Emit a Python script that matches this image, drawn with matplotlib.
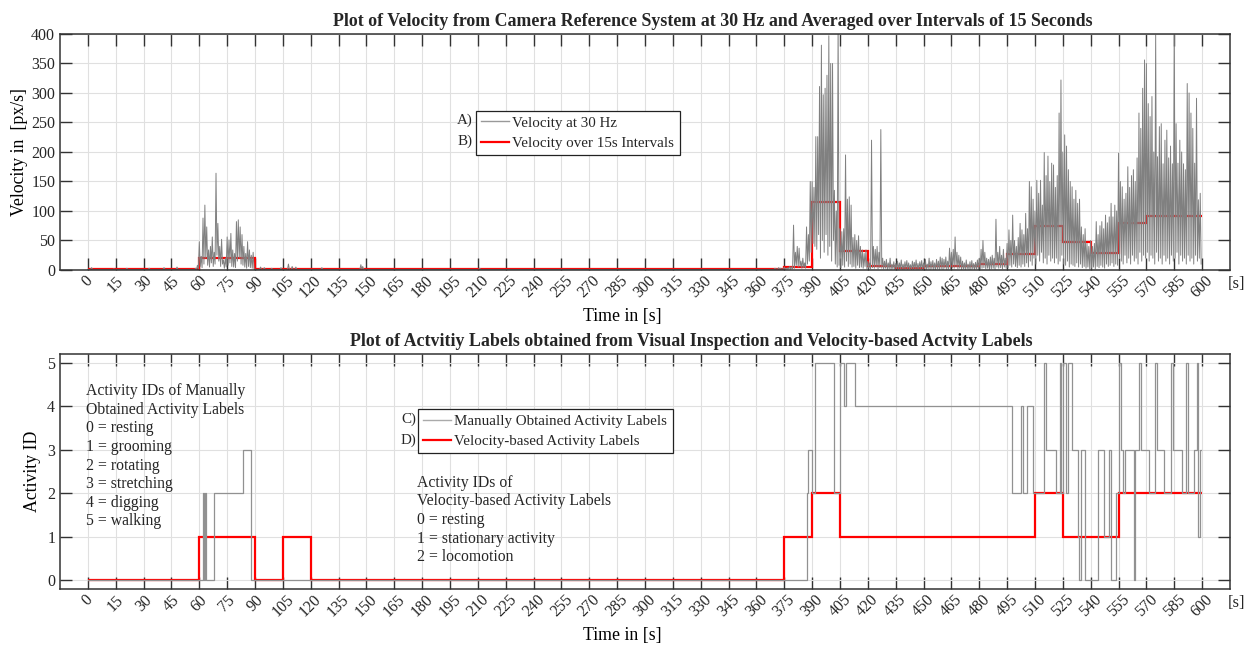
import numpy as np
import matplotlib.pyplot as plt

# ---- data ----
# 30 Hz velocity, kept as peak/trough samples every 0.5 s
step = 0.5
t_end = 600
base_v = 1.0
quiet_t = [2, 14, 21, 33, 41, 48, 93, 95, 99, 104, 108, 110, 112, 126, 147, 148, 211]
quiet_v = [4, 2, 3, 3, 4, 5, 5, 4, 3, 4, 10, 6, 5, 4, 9, 6, 3]

burst1_start = 58
burst1_v = [
    3, 1, 8, 2, 48, 6, 23, 4, 88, 10,          # 58-62
    110, 20, 73, 8, 34, 5, 40, 12, 56, 6,      # 63-67
    30, 10, 164, 25, 79, 15, 40, 6, 52, 10,    # 68-72
    17, 3, 20, 5, 56, 8, 51, 12, 62, 6,        # 73-77
    34, 5, 28, 4, 82, 15, 85, 20, 73, 10,      # 78-82
    60, 8, 40, 5, 28, 3, 48, 6, 34, 4,         # 83-87
    25, 3, 30, 2,                              # 88-89
]

burst2_start = 370
burst2_v = [
    3, 1, 2, 1, 4, 1, 3, 1, 2, 1,              # 370-374
    5, 1, 3, 1, 4, 2, 6, 1, 5, 2,              # 375-379
    76, 3, 30, 8, 40, 5, 37, 6, 15, 3,         # 380-384
    20, 4, 12, 3, 73, 10, 60, 15, 150, 30,     # 385-389
    150, 45, 140, 40, 226, 35, 226, 60, 311, 20,   # 390-394
    381, 50, 297, 30, 308, 60, 330, 25, 397, 40,   # 395-399
    350, 15, 350, 50, 135, 10, 100, 5, 420, 8,     # 400-404
    70, 4, 65, 8, 70, 5, 195, 15, 120, 6,      # 405-409
    124, 10, 110, 5, 55, 6, 60, 3, 50, 8,      # 410-414
    58, 4, 40, 5, 34, 3, 28, 6, 34, 2,         # 415-419
    15, 3, 12, 2, 220, 4, 40, 3, 35, 5,        # 420-424
    40, 2, 30, 4, 238, 3, 20, 2, 15, 3,        # 425-429
    18, 1, 12, 2, 20, 1, 10, 2, 14, 1,         # 430-434
    11, 2, 15, 1, 12, 2, 17, 1, 10, 1,         # 435-439
    14, 2, 16, 1, 12, 2, 9, 1, 15, 1,          # 440-444
    13, 2, 17, 1, 11, 1, 14, 2, 16, 1,         # 445-449
    12, 2, 18, 1, 10, 2, 20, 1, 14, 2,         # 450-454
    16, 1, 12, 1, 18, 2, 15, 1, 22, 2,         # 455-459
    20, 1, 18, 3, 22, 1, 15, 2, 37, 2,         # 460-464
    30, 4, 35, 3, 56, 5, 30, 2, 25, 3,         # 465-469
    22, 1, 15, 2, 12, 1, 17, 2, 10, 1,         # 470-474
    14, 1, 16, 2, 11, 1, 13, 2, 17, 1,         # 475-479
    20, 2, 35, 3, 50, 4, 30, 2, 20, 3,         # 480-484
    18, 1, 22, 2, 25, 3, 20, 1, 86, 5,         # 485-489
    30, 3, 40, 4, 25, 2, 35, 5, 20, 3,         # 490-494
    45, 4, 68, 8, 50, 5, 93, 10, 50, 6,        # 495-499
    40, 4, 55, 8, 79, 5, 68, 10, 60, 6,        # 500-504
    96, 12, 70, 5, 150, 15, 141, 8, 120, 20,   # 505-509
    100, 10, 152, 25, 130, 15, 152, 30, 110, 12,   # 510-514
    199, 20, 160, 10, 193, 25, 150, 15, 181, 20,   # 515-519
    178, 12, 140, 20, 160, 10, 266, 15, 322, 25,   # 520-524
    200, 10, 229, 8, 210, 15, 170, 5, 150, 10,     # 525-529
    141, 8, 120, 6, 135, 12, 113, 5, 120, 10,      # 530-534
    73, 4, 60, 6, 70, 3, 45, 5, 40, 2,         # 535-539
    50, 3, 40, 5, 45, 2, 82, 6, 60, 4,         # 540-544
    75, 8, 82, 5, 70, 3, 93, 10, 80, 6,        # 545-549
    90, 8, 113, 12, 90, 6, 110, 10, 100, 8,    # 550-554
    198, 20, 150, 15, 141, 10, 120, 25, 130, 12,   # 555-559
    175, 20, 140, 10, 160, 25, 170, 15, 150, 20,   # 560-564
    190, 10, 266, 30, 240, 15, 308, 25, 356, 20,   # 565-569
    350, 30, 282, 15, 260, 25, 294, 20, 200, 10,   # 570-574
    398, 30, 192, 15, 243, 20, 248, 10, 180, 25,   # 575-579
    220, 15, 237, 20, 190, 10, 210, 25, 180, 15,   # 580-584
    420, 20, 248, 30, 181, 10, 220, 25, 200, 15,   # 585-589
    180, 20, 170, 10, 316, 25, 300, 15, 266, 20,   # 590-594
    240, 10, 181, 25, 291, 15, 119, 20, 130, 10,   # 595-599
]

# 15 s interval averages [px/s]
avg_edges = np.arange(0, 601, 15)
avg_v = [1, 1, 1, 1, 20, 21, 2, 2, 1, 1, 1, 1, 1, 1, 1, 1, 1, 1, 1, 1,
         1, 1, 1, 1, 1, 5, 115, 33, 7, 4, 7, 7, 10, 27, 75, 47, 29, 80, 92, 92]

# manually obtained activity labels (change times and new value)
manual_t = [0, 62.0, 62.6, 63.2, 63.8, 68.0, 83.7, 88.0, 387.2, 387.6, 390.1,
            391.3, 402.0, 404.8, 407.3, 408.0, 413.3, 497.7, 502.6, 503.6,
            505.7, 509.0, 515.1, 516.2, 521.6, 523.4, 524.1, 525.2, 526.6,
            527.7, 530.2, 533.0, 533.8, 534.8, 537.0, 544.2, 547.0, 549.9,
            551.0, 553.5, 555.3, 556.4, 557.4, 558.5, 563.2, 563.7, 566.1,
            567.2, 571.5, 574.4, 575.8, 579.4, 583.0, 584.4, 589.4, 591.6,
            592.3, 595.9, 597.0, 597.7, 598.8, 599.5]
manual_v = [0, 2, 0, 2, 0, 2, 3, 0, 2, 3, 2, 5, 2, 5, 4, 5, 4, 2, 4, 2, 4, 2,
            5, 3, 2, 5, 2, 5, 2, 5, 3, 1, 0, 3, 0, 3, 1, 3, 0, 2, 5, 3, 2, 3,
            0, 3, 5, 3, 2, 5, 3, 2, 5, 3, 2, 5, 2, 3, 5, 1, 3, 3]

# velocity-based labels per 15 s interval
vel_label_v = [0, 0, 0, 0, 1, 1, 0, 1, 0, 0, 0, 0, 0, 0, 0, 0, 0, 0, 0, 0,
               0, 0, 0, 0, 0, 1, 2, 1, 1, 1, 1, 1, 1, 1, 2, 1, 1, 2, 2, 2]

x_ticks = np.arange(0, 601, 15)

# ---- assemble the 30 Hz series ----
t_all = np.arange(0, t_end, step)
v_all = np.full(t_all.shape, base_v)
for t, v in zip(quiet_t, quiet_v):
    v_all[int(t / step)] = v
i0 = int(burst1_start / step)
v_all[i0:i0 + len(burst1_v)] = burst1_v
i0 = int(burst2_start / step)
v_all[i0:i0 + len(burst2_v)] = burst2_v

# ---- figure ----
plt.rcParams['font.family'] = ['Liberation Serif', 'DejaVu Serif']
plt.rcParams['font.size'] = 11
plt.rcParams['text.color'] = '#262626'
label_size = 12.8
title_size = 12.9
leg_size = 10.8

fig = plt.figure(figsize=(12.53, 6.47), dpi=100)
ax1 = fig.add_axes([0.0479, 0.5827, 0.9337, 0.3648])
ax2 = fig.add_axes([0.0479, 0.0896, 0.9337, 0.3632])


def style(ax):
    ax.set_xlim(-15, 615)
    ax.set_xticks(x_ticks)
    ax.tick_params(axis='both', direction='in', length=8.5, width=1.0,
                   top=True, right=True, color='#333333',
                   labelcolor='#262626', labelsize=11.5)
    ax.tick_params(axis='x', labelrotation=45, pad=2)
    ax.grid(True, color='#e0e0e0', lw=0.8)
    ax.set_axisbelow(True)
    for s in ax.spines.values():
        s.set_color('#333333')
        s.set_linewidth(1.1)
    ax.set_xlabel('Time in [s]', fontsize=label_size)
    ax.xaxis.set_label_coords(0.481, -0.162)
    ax.text(1.006, -0.058, '[s]', transform=ax.transAxes, ha='center',
            va='center', fontsize=12)


# top: velocity
ax1.plot(t_all, v_all, color='#808080', lw=0.7, label='Velocity at 30 Hz')
ax1.stairs(avg_v, avg_edges, color='red', lw=1.6, baseline=None,
           label='Velocity over 15s Intervals')
style(ax1)
ax1.set_ylim(0, 400)
ax1.set_yticks(np.arange(0, 401, 50))
ax1.set_ylabel('Velocity in  [px/s]', fontsize=label_size)
ax1.yaxis.set_label_coords(-0.027, 0.5)
ax1.set_title('Plot of Velocity from Camera Reference System at 30 Hz and Averaged over Intervals of 15 Seconds',
              fontweight='bold', fontsize=title_size, pad=6, x=0.558)
h, l = ax1.get_legend_handles_labels()
h[0] = plt.Line2D([], [], color='#999999', lw=1.0)
leg = ax1.legend(h, l, loc='upper left', bbox_to_anchor=(0.3553, 0.6737),
                 fancybox=False, edgecolor='#222222', framealpha=1,
                 borderpad=0.35, handlelength=1.9, handletextpad=0.2,
                 labelspacing=0.45, borderaxespad=0, fontsize=leg_size)
leg.get_frame().set_linewidth(0.9)
ax1.text(0.3527, 0.636, 'A)', transform=ax1.transAxes, ha='right', va='center',
         fontsize=leg_size)
ax1.text(0.3527, 0.544, 'B)', transform=ax1.transAxes, ha='right', va='center',
         fontsize=leg_size)

# bottom: activity labels
ax2.step(manual_t, manual_v, where='post', color='#919191', lw=0.9,
         label='Manually Obtained Activity Labels')
ax2.stairs(vel_label_v, avg_edges, color='red', lw=1.6, baseline=None,
           label='Velocity-based Activity Labels')
style(ax2)
ax2.set_ylim(-0.2, 5.2)
ax2.set_yticks(range(6))
ax2.set_ylabel('Activity ID', fontsize=label_size)
ax2.yaxis.set_label_coords(-0.016, 0.5)
ax2.set_title('Plot of Actvitiy Labels obtained from Visual Inspection and Velocity-based Actvity Labels',
              fontweight='bold', fontsize=title_size, pad=6, x=0.540)
h, l = ax2.get_legend_handles_labels()
h[0] = plt.Line2D([], [], color='#aaaaaa', lw=1.0)
leg = ax2.legend(h, l, loc='upper left', bbox_to_anchor=(0.3057, 0.766),
                 fancybox=False, edgecolor='#222222', framealpha=1,
                 borderpad=0.35, handlelength=1.9, handletextpad=0.2,
                 labelspacing=0.45, borderaxespad=0, fontsize=leg_size)
leg.get_frame().set_linewidth(0.9)
ax2.text(0.3045, 0.723, 'C)', transform=ax2.transAxes, ha='right', va='center',
         fontsize=leg_size)
ax2.text(0.3045, 0.631, 'D)', transform=ax2.transAxes, ha='right', va='center',
         fontsize=leg_size)

ax2.text(0.0222, 0.877,
         'Activity IDs of Manually\nObtained Activity Labels\n0 = resting\n1 = grooming\n'
         '2 = rotating\n3 = stretching\n4 = digging\n5 = walking',
         transform=ax2.transAxes, ha='left', va='top', linespacing=1.22,
         fontsize=11.3)
ax2.text(0.305, 0.486,
         'Activity IDs of\nVelocity-based Activity Labels\n0 = resting\n'
         '1 = stationary activity\n2 = locomotion',
         transform=ax2.transAxes, ha='left', va='top', linespacing=1.22,
         fontsize=11.3)

fig.savefig('out.png', dpi=100)
